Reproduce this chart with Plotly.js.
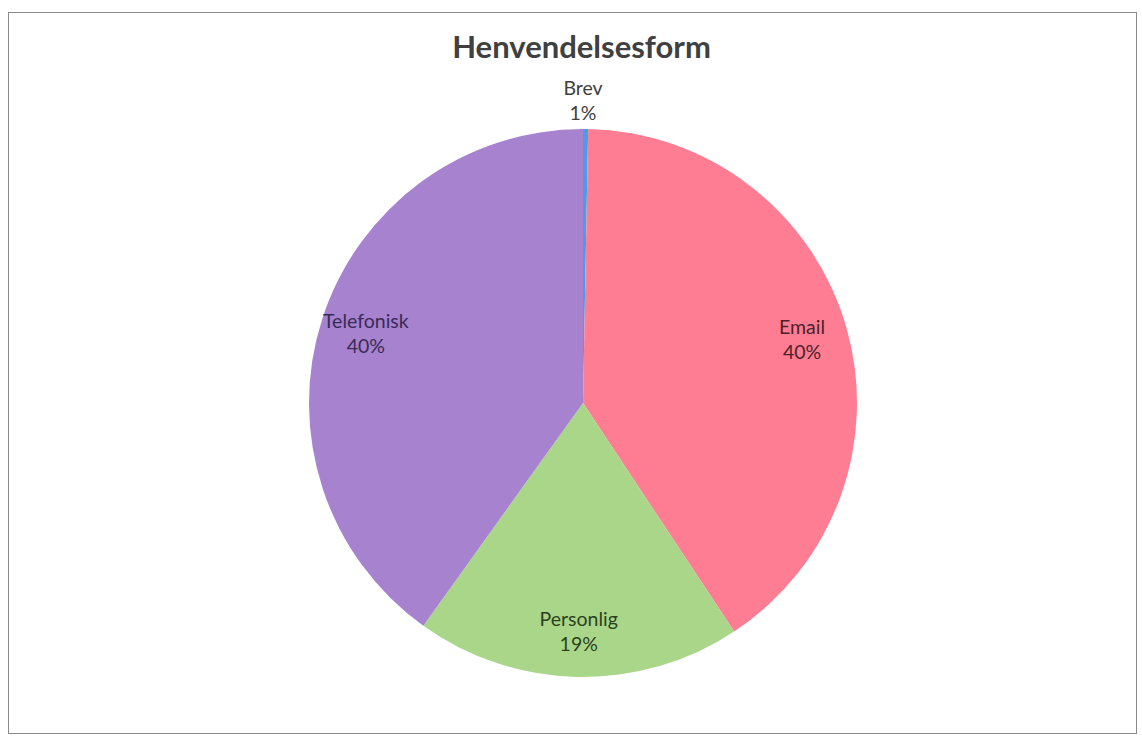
<!DOCTYPE html>
<html>
<head>
<meta charset="utf-8">
<script src="https://cdn.plot.ly/plotly-3.0.1.min.js"></script>
<style>
  html, body { margin: 0; padding: 0; background: #ffffff; }
  #frame { position: absolute; left: 8px; top: 12px; width: 1127px; height: 720px; border: 1px solid #8a8a8a; }
  #chart { width: 1127px; height: 720px; }
</style>
</head>
<body>
<div id="frame"><div id="chart"></div></div>
<script>
const categories = ["Brev", "Email", "Personlig", "Telefonisk"];
const shares = [0.3, 40.4, 19.2, 40.1];
const percentLabels = ["1%", "40%", "19%", "40%"];
const sliceColors = ["#4a9ee8", "#ff7d92", "#a9d689", "#a682cf"];
const labelColors = ["#404040", "#4d1f2b", "#2c4220", "#3a2a56"];

const FONT = "Lato, 'Open Sans', sans-serif";

// the tiny Brev slice has its label above the pie, as in the original
const brevLabel = categories[0] + "<br>" + percentLabels[0];

// coloured pie, no slice text
const pieTrace = {
  type: "pie",
  labels: categories,
  values: shares,
  sort: false,
  direction: "clockwise",
  rotation: 0,
  textinfo: "none",
  domain: { x: [0.26620, 0.75244], y: [0.07778, 0.83889] },
  marker: { colors: sliceColors, line: { width: 0 } },
  hoverinfo: "label+percent",
  showlegend: false
};

// transparent ring over the pie carrying the slice labels near the rim
const labelTrace = {
  type: "pie",
  labels: categories,
  values: shares,
  sort: false,
  direction: "clockwise",
  rotation: 0,
  hole: 0.635,
  domain: { x: [0.26176, 0.75688], y: [0.07083, 0.91389] },
  title: { text: brevLabel, position: "top center", font: { family: FONT, size: 19.5, color: labelColors[0] } },
  text: percentLabels,
  texttemplate: categories.map((c, i) => i === 0 ? "" : "%{label}<br>%{text}"),
  textposition: "inside",
  insidetextorientation: "horizontal",
  marker: { colors: ["rgba(0,0,0,0)", "rgba(0,0,0,0)", "rgba(0,0,0,0)", "rgba(0,0,0,0)"], line: { width: 0 } },
  insidetextfont: { family: FONT, size: 19.5, color: labelColors },
  hoverinfo: "skip",
  showlegend: false
};

const layout = {
  width: 1127,
  height: 720,
  margin: { l: 0, r: 0, t: 0, b: 0 },
  paper_bgcolor: "#ffffff",
  uniformtext: { mode: "show", minsize: 19.5 },
  title: {
    text: "<b>Henvendelsesform</b>",
    x: 0.508,
    xanchor: "center",
    y: 0.953,
    yanchor: "middle",
    font: { family: FONT, size: 31, color: "#404040" }
  },
  showlegend: false
};

Plotly.newPlot("chart", [pieTrace, labelTrace], layout, { displayModeBar: false, staticPlot: true });
</script>
</body>
</html>
